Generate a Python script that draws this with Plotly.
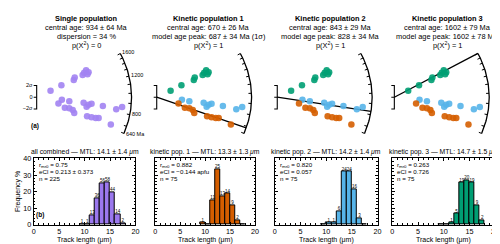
import math
import plotly.graph_objects as go

W, H = 500, 244
FONT = "Liberation Sans, Arial, Helvetica, sans-serif"

# ---------------- data: radial plots (a) ----------------
panel_titles = ["Single population", "Kinetic population 1",
                "Kinetic population 2", "Kinetic population 3"]
panel_line2 = ["central age: 934 ± 64 Ma", "central age: 670 ± 26 Ma",
               "central age: 843 ± 29 Ma", "central age: 1602 ± 79 Ma"]
panel_line3 = ["dispersion = 34 %", "model age peak: 687 ± 34 Ma (1σ)",
               "model age peak: 828 ± 34 Ma", "model age peak: 1602 ± 78 Ma"]
panel_line4 = ["p(X<sup>2</sup>) = 0", "p(X<sup>2</sup>) = 1",
               "p(X<sup>2</sup>) = 1", "p(X<sup>2</sup>) = 1"]
model_peak_ages = [None, 687, 828, 1602]

arc_min_age, arc_max_age = 640, 1600
arc_tick_ages = [640, 700, 800, 900, 1000, 1100, 1200, 1300, 1400, 1500, 1600]
arc_label_ages = [1600, 1200, 800]
arc_ref_age = 960
arc_slope = 1.05
arc_radius = 15.74

# grains: precision (1/sigma), standardised estimate, kinetic population
grain_precision = [2.30, 4.10, 6.15, 6.31, 7.62, 7.87, 8.20, 8.61, 8.44,
                   4.18, 5.41, 7.79, 8.61, 9.10, 8.28, 10.98, 14.18, 13.20,
                   3.61, 4.67, 5.41, 5.98, 6.23, 8.36, 9.10, 9.79, 10.28, 12.30]
grain_std_est = [1.11, 2.05, 2.95, 3.36, 3.77, 4.18, 4.59, 4.26, 3.93,
                 -0.44, -0.67, -0.95, -1.28, -1.10, -1.64, -1.51, -1.67, -2.05,
                 -1.07, -1.80, -1.89, -2.16, -2.70, -3.25, -3.41, -3.52, -3.52, -4.62]
grain_pop = [3] * 9 + [2] * 9 + [1] * 10

# ---------------- data: track-length histograms (b) ----------------
hist_titles = ["all combined — MTL: 14.1 ± 1.4 <i>μ</i>m",
               "kinetic pop. 1 — MTL: 13.3 ± 1.3 <i>μ</i>m",
               "kinetic pop. 2 — MTL: 14.2 ± 1.4 <i>μ</i>m",
               "kinetic pop. 3 — MTL: 14.7 ± 1.5 <i>μ</i>m"]
hist_rmr0 = ["0.75", "0.882", "0.820", "0.263"]
hist_ecl = ["0.213 ± 0.373", "−0.144 apfu", "0.057", "0.726"]
hist_n = [225, 75, 75, 75]
bin_left_edges = [9, 10, 11, 12, 13, 14, 15, 16, 17]
counts_all = [1, 1, 13, 36, 56, 58, 44, 14, 2]
counts_pop1 = [1, 0, 11, 25, 13, 14, 9, 2, 0]
counts_pop2 = [0, 1, 1, 6, 24, 24, 16, 3, 0]
counts_pop3 = [0, 0, 1, 5, 19, 20, 19, 9, 2]
hist_counts = [counts_all, counts_pop1, counts_pop2, counts_pop3]

# ---------------- style / layout ----------------
PURPLE = "#9B78EE"
DOT_PURPLE = "#A283F2"
POP_COLORS = {1: "#D55E00", 2: "#56B4E9", 3: "#009E73"}
HIST_COLORS = [PURPLE, "#D55E00", "#56B4E9", "#009E73"]

PX_PER_UNIT = 6.1
radial_origin_px = [27, 148.5, 270.5, 389]
radial_origin_ypx = 88.5
radial_ytop_px, radial_ybot_px = 36, 134
hist_dom_px = [(24, 127), (147, 248), (268, 372), (387, 491)]
hist_ytop_px, hist_ybot_px = 152, 221
title_centers_px = [77, 201, 324, 442.5]


def px2x(p):
    return p / W


def px2y(p):
    return 1 - p / H


def arc_angle(age):
    return math.atan(arc_slope * (math.log(age) - math.log(arc_ref_age)))


def note(xpx, ypx, text, size, xanchor="center", **kw):
    return dict(x=px2x(xpx), y=px2y(ypx), xref="paper", yref="paper", text=text,
                showarrow=False, xanchor=xanchor, yanchor="middle", borderpad=0,
                font=dict(size=size, family=FONT, color="black"), **kw)


fig = go.Figure()
layout = dict(width=W, height=H, margin=dict(l=0, r=0, t=0, b=0),
              paper_bgcolor="white", plot_bgcolor="rgba(0,0,0,0)",
              showlegend=False, font=dict(family=FONT, color="black", size=7),
              bargap=0)
annotations = []

for k in range(4):
    ax = "" if k == 0 else str(k + 1)
    xr = "x" + ax
    yr = "y" + ax
    o = radial_origin_px[k]
    d0, d1 = max(o - 12, 0), min(o + 112, W)
    layout["xaxis" + ax] = dict(domain=[px2x(d0), px2x(d1)],
                                range=[(d0 - o) / PX_PER_UNIT, (d1 - o) / PX_PER_UNIT],
                                visible=False, fixedrange=True)
    layout["yaxis" + ax] = dict(domain=[px2y(radial_ybot_px), px2y(radial_ytop_px)],
                                range=[(radial_origin_ypx - radial_ybot_px) / PX_PER_UNIT,
                                       (radial_origin_ypx - radial_ytop_px) / PX_PER_UNIT],
                                visible=False, fixedrange=True)

    # arc
    n = 80
    ax_pts, ay_pts = [], []
    for i in range(n + 1):
        age = arc_min_age * (arc_max_age / arc_min_age) ** (i / n)
        t = arc_angle(age)
        ax_pts.append(arc_radius * math.cos(t))
        ay_pts.append(arc_radius * math.sin(t))
    fig.add_trace(go.Scatter(x=ax_pts, y=ay_pts, mode="lines", xaxis=xr, yaxis=yr,
                             line=dict(color="black", width=1.3), hoverinfo="skip"))
    # arc ticks (inward)
    tx, ty = [], []
    for age in arc_tick_ages:
        t = arc_angle(age)
        for r in (arc_radius, arc_radius - 0.5):
            tx.append(r * math.cos(t))
            ty.append(r * math.sin(t))
        tx.append(None)
        ty.append(None)
    fig.add_trace(go.Scatter(x=tx, y=ty, mode="lines", xaxis=xr, yaxis=yr,
                             line=dict(color="black", width=1), hoverinfo="skip"))

    # 2-sigma bracket
    bx = [-0.5, 0, 0, -0.5, None, -0.5, 0]
    by = [2, 2, -2, -2, None, 0, 0]
    fig.add_trace(go.Scatter(x=bx, y=by, mode="lines", xaxis=xr, yaxis=yr,
                             line=dict(color="black", width=1.1), hoverinfo="skip"))

    # model-age line
    if model_peak_ages[k] is not None:
        t = arc_angle(model_peak_ages[k])
        fig.add_trace(go.Scatter(x=[0, arc_radius * math.cos(t)],
                                 y=[0, arc_radius * math.sin(t)],
                                 mode="lines", xaxis=xr, yaxis=yr,
                                 line=dict(color="black", width=1.3), hoverinfo="skip"))

    # grains
    if k == 0:
        cols = [DOT_PURPLE] * len(grain_pop)
    else:
        cols = [POP_COLORS[p] for p in grain_pop]
    fig.add_trace(go.Scatter(x=grain_precision, y=grain_std_est, mode="markers",
                             xaxis=xr, yaxis=yr, cliponaxis=False,
                             marker=dict(color=cols, size=6.5, opacity=0.9,
                                         line=dict(width=0)),
                             hoverinfo="skip"))

    if k == 0:
        # arc labels
        lx, ly, lt = [], [], []
        for age in arc_label_ages + [arc_min_age]:
            t = arc_angle(age)
            lx.append((arc_radius + 0.35) * math.cos(t))
            ly.append((arc_radius + 0.35) * math.sin(t))
            lt.append(str(age) if age != arc_min_age else f"{age} Ma")
        fig.add_trace(go.Scatter(x=lx, y=ly, text=lt, mode="text", xaxis=xr, yaxis=yr,
                                 textposition="middle right", cliponaxis=False,
                                 textfont=dict(size=5.5, family=FONT, color="black"),
                                 hoverinfo="skip"))
        fig.add_trace(go.Scatter(x=[-0.7, -0.7, -0.7], y=[2, 0, -2],
                                 text=["2σ", "0", "−2σ"], mode="text",
                                 xaxis=xr, yaxis=yr, textposition="middle left",
                                 cliponaxis=False,
                                 textfont=dict(size=5.5, family=FONT, color="black"),
                                 hoverinfo="skip"))

    # titles
    cx = title_centers_px[k]
    lines = [f"<b>{panel_titles[k]}</b>", panel_line2[k], panel_line3[k], panel_line4[k]]
    for txt, ypx in zip(lines, [7, 16, 25, 34]):
        annotations.append(note(cx, ypx, txt, 7.4))

annotations.append(note(25, 118, "<b>(a)</b>", 6.5))

# histograms
for k in range(4):
    ax = str(k + 5)
    xr, yr = "x" + ax, "y" + ax
    d0, d1 = hist_dom_px[k]
    common = dict(showline=True, linecolor="black", linewidth=1, mirror="allticks",
                  ticks="inside", ticklen=3, tickcolor="black", tickwidth=0.8,
                  showgrid=False, zeroline=False, fixedrange=True,
                  tickfont=dict(size=7.2, family=FONT, color="black"))
    layout["xaxis" + ax] = dict(domain=[px2x(d0), px2x(d1)], range=[0, 20],
                                tickvals=[0, 5, 10, 15, 20], anchor=yr,
                                minor=dict(ticks="inside", ticklen=1.5, dtick=1,
                                           tickcolor="black", tickwidth=0.6),
                                **common)
    layout["yaxis" + ax] = dict(domain=[px2y(hist_ybot_px), px2y(hist_ytop_px)],
                                range=[0, 40], tickvals=[0, 10, 20, 30, 40],
                                anchor=xr, showticklabels=(k == 0),
                                minor=dict(ticks="inside", ticklen=1.5, dtick=2,
                                           tickcolor="black", tickwidth=0.6),
                                **common)
    counts = hist_counts[k]
    pct = [c / hist_n[k] * 100 for c in counts]
    centers = [b + 0.5 for b in bin_left_edges]
    fig.add_trace(go.Bar(x=centers, y=pct, width=[1] * len(centers), xaxis=xr, yaxis=yr,
                         marker=dict(color=HIST_COLORS[k],
                                     line=dict(color="black", width=1)),
                         hoverinfo="skip"))
    lab_x = [c for c, n in zip(centers, counts) if n > 0]
    lab_y = [p for p, n in zip(pct, counts) if n > 0]
    lab_t = [str(n) for n in counts if n > 0]
    fig.add_trace(go.Scatter(x=lab_x, y=lab_y, text=lab_t, mode="text",
                             textposition="top center", xaxis=xr, yaxis=yr,
                             cliponaxis=False,
                             textfont=dict(size=4.5, family=FONT, color="black"),
                             hoverinfo="skip"))
    # subtitle, stats and axis title
    cx = (d0 + d1) / 2
    annotations.append(note(cx, 145, hist_titles[k], 6.8))
    stats = [f"r<sub>mr0</sub> = {hist_rmr0[k]}", f"eCl = {hist_ecl[k]}",
             f"n = {hist_n[k]}"]
    for j, s in enumerate(stats):
        annotations.append(note(d0 + 4, 159 + 7 * j, s, 6.2, xanchor="left"))
    annotations.append(note(cx, 237, "Track length (μm)", 7))

annotations.append(note(25, 211, "<b>(b)</b>", 6.5, xanchor="left"))
annotations.append(note(8, 186, "Frequency %", 7, textangle=-90))

layout["annotations"] = annotations
fig.update_layout(**layout)
fig.write_html("out.html")
